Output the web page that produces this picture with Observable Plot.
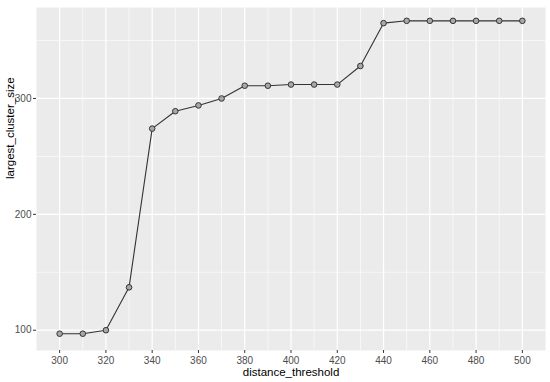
<!DOCTYPE html>
<html>
<head>
<meta charset="utf-8">
<script src="https://cdn.jsdelivr.net/npm/d3@7"></script>
<script src="https://cdn.jsdelivr.net/npm/@observablehq/plot@0.6"></script>
<style>
  body { margin: 0; background: #fff; }
  #chart svg { display: block; }
</style>
</head>
<body>
<div id="chart"></div>
<script>
const distanceThreshold = [300, 310, 320, 330, 340, 350, 360, 370, 380, 390, 400, 410, 420, 430, 440, 450, 460, 470, 480, 490, 500];
const largestClusterSize = [97, 97, 100, 137, 274, 289, 294, 300, 311, 311, 312, 312, 312, 328, 365, 367, 367, 367, 367, 367, 367];
const xTicks = [300, 320, 340, 360, 380, 400, 420, 440, 460, 480, 500];
const xMinor = [290, 310, 330, 350, 370, 390, 410, 430, 450, 470, 490, 510];
const yTicks = [100, 200, 300];
const yMinor = [150, 250, 350];

const data = distanceThreshold.map((d, i) => ({x: d, y: largestClusterSize[i]}));

const font = "Liberation Sans, Arial, sans-serif";

const chart = Plot.plot({
  width: 550,
  height: 382,
  marginLeft: 36,
  marginTop: 7,
  marginRight: 5,
  marginBottom: 32,
  style: {fontFamily: font, background: "#fff"},
  x: {domain: [290, 510], label: null},
  y: {domain: [82.5, 378.5], label: null},
  marks: [
    Plot.frame({fill: "#EBEBEB", stroke: null}),
    Plot.ruleX(xMinor.filter(v => v > 290 && v < 510), {stroke: "#fff", strokeWidth: 0.6}),
    Plot.ruleY(yMinor, {stroke: "#fff", strokeWidth: 0.6}),
    Plot.ruleX(xTicks, {stroke: "#fff", strokeWidth: 1.2}),
    Plot.ruleY(yTicks, {stroke: "#fff", strokeWidth: 1.2}),
    Plot.axisX({ticks: xTicks, tickSize: 3, tickPadding: 3, stroke: "#333", color: "#4D4D4D", fontSize: 10, label: null}),
    Plot.axisY({ticks: yTicks, tickSize: 3, tickPadding: 2, stroke: "#333", color: "#4D4D4D", fontSize: 10, label: null}),
    Plot.line(data, {x: "x", y: "y", stroke: "#333", strokeWidth: 1.1}),
    Plot.dot(data, {x: "x", y: "y", r: 2.8, fill: "#a8a8a8", stroke: "#333", strokeWidth: 1}),
    Plot.text(["distance_threshold"], {frameAnchor: "bottom", dy: 25, text: d => d, fontSize: 11.5, fill: "#000"}),
    Plot.text(["largest_cluster_size"], {frameAnchor: "left", dx: -26, rotate: -90, text: d => d, fontSize: 11.5, fill: "#000"})
  ]
});
document.getElementById("chart").appendChild(chart);
</script>
</body>
</html>
